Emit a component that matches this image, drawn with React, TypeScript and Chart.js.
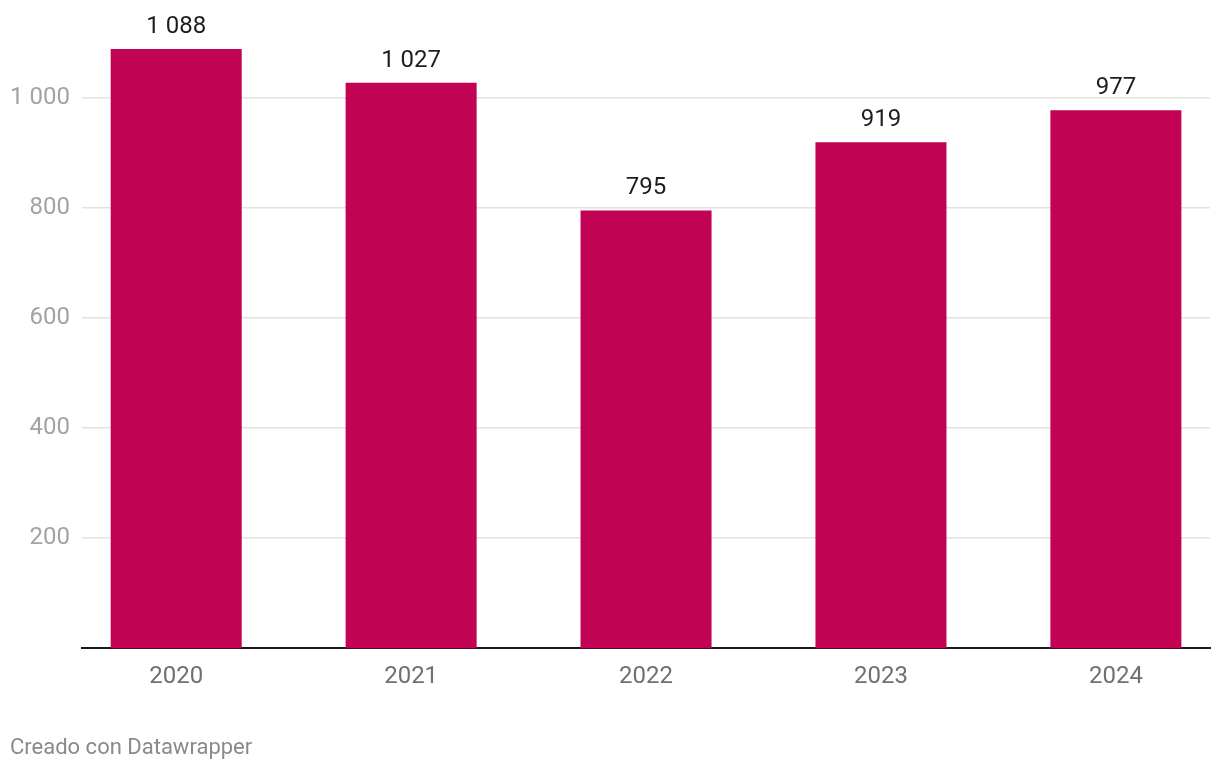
import React, { useEffect, useRef } from "react";
import { Chart, registerables } from "chart.js";

Chart.register(...registerables);

const categories = ["2020", "2021", "2022", "2023", "2024"];
const values = [1088, 1027, 795, 919, 977];
const yTickValues = [200, 400, 600, 800, 1000];

const BAR_COLOR = "rgb(194, 2, 82)";
const FONT = "Roboto, 'Noto Sans', sans-serif";

const fmt = (v: number) => String(v).replace(/\B(?=(\d{3})+(?!\d))/g, " ");

const valueLabels = {
  id: "valueLabels",
  afterDatasetsDraw(chart: any) {
    const ctx = chart.ctx;
    const meta = chart.getDatasetMeta(0);
    ctx.save();
    ctx.font = `24px ${FONT}`;
    ctx.fillStyle = "#1d1d1d";
    ctx.textAlign = "center";
    ctx.textBaseline = "alphabetic";
    meta.data.forEach((bar: any, i: number) => {
      ctx.fillText(fmt(values[i]), bar.x, bar.y - 16);
    });
    ctx.restore();
  },
};

export default function App() {
  const ref = useRef<HTMLCanvasElement | null>(null);
  useEffect(() => {
    if (!ref.current) return;
    const chart = new Chart(ref.current, {
      type: "bar",
      data: {
        datasets: [
          {
            data: values.map((v, i) => ({ x: i, y: v })),
            backgroundColor: BAR_COLOR,
            borderWidth: 0,
            barPercentage: 0.5577,
            categoryPercentage: 1,
          },
        ],
      },
      options: {
        responsive: false,
        animation: false,
        events: [],
        layout: { padding: { left: -2, right: 10, top: 42.5, bottom: 72.8 } },
        plugins: {
          legend: { display: false },
          tooltip: { enabled: false },
          title: { display: false },
        },
        scales: {
          x: {
            type: "linear",
            offset: false,
            bounds: "ticks",
            min: -0.4014,
            max: 4.4006,
            grid: { display: false },
            border: { display: true, color: "#1a1a1a", width: 2 },
            afterBuildTicks: (scale: any) => {
              scale.ticks = categories.map((_, i) => ({ value: i }));
            },
            ticks: {
              autoSkip: false,
              maxRotation: 0,
              padding: 6,
              color: "#707070",
              font: { family: FONT, size: 24 },
              callback: (v: any) => categories[v as number] ?? "",
            },
          },
          y: {
            min: 0,
            max: 1100,
            grid: { color: "#e2e2e2", lineWidth: 1.5, drawTicks: false },
            border: { display: false },
            afterBuildTicks: (scale: any) => {
              scale.ticks = yTickValues.map((v) => ({ value: v }));
            },
            ticks: {
              padding: 12,
              color: "#a3a3a3",
              font: { family: FONT, size: 24 },
              callback: (v: any) => fmt(v as number),
            },
          },
        },
      },
      plugins: [valueLabels],
    });
    return () => chart.destroy();
  }, []);

  return (
    <div style={{ position: "absolute", left: 0, top: 0, width: 1220, height: 770, background: "#fff" }}>
      <canvas ref={ref} width={1220} height={770} style={{ display: "block" }} />
      <div
        style={{
          position: "absolute",
          left: 10,
          top: 734,
          fontFamily: FONT,
          fontSize: 22,
          lineHeight: "26px",
          color: "#8a8a8a",
        }}
      >
        Creado con Datawrapper
      </div>
    </div>
  );
}
